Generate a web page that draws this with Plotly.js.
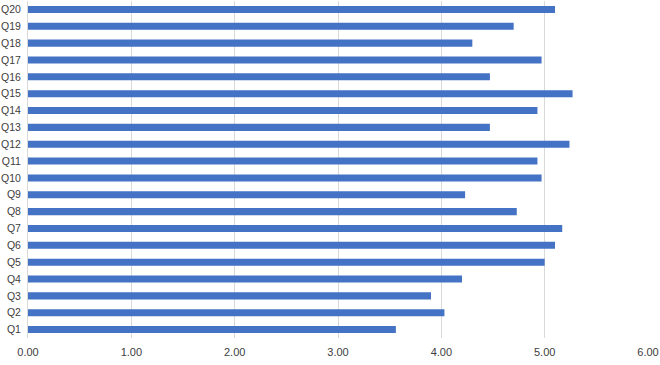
<!DOCTYPE html>
<html>
<head>
<meta charset="utf-8">
<script src="https://cdn.plot.ly/plotly-3.0.1.min.js"></script>
<style>html,body{margin:0;padding:0;background:#fff;}#chart{width:660px;height:365px;}</style>
</head>
<body>
<div id="chart"></div>
<script>
const categories = ["Q1","Q2","Q3","Q4","Q5","Q6","Q7","Q8","Q9","Q10","Q11","Q12","Q13","Q14","Q15","Q16","Q17","Q18","Q19","Q20"];
const values = [3.56, 4.03, 3.90, 4.20, 5.00, 5.10, 5.17, 4.73, 4.23, 4.97, 4.93, 5.24, 4.47, 4.93, 5.27, 4.47, 4.97, 4.30, 4.70, 5.10];
const tickVals = [0, 1, 2, 3, 4, 5, 6];
const tickText = ["0.00", "1.00", "2.00", "3.00", "4.00", "5.00", "6.00"];

Plotly.newPlot('chart', [{
  type: 'bar',
  orientation: 'h',
  y: categories,
  x: values,
  marker: {color: '#4472C4'},
  hoverinfo: 'x+y'
}], {
  width: 660, height: 365,
  margin: {l: 28, r: 12, t: 1, b: 27},
  paper_bgcolor: '#fff', plot_bgcolor: '#fff',
  bargap: 0.58,
  showlegend: false,
  font: {family: 'Liberation Sans, Arial, sans-serif', size: 11, color: '#404040'},
  xaxis: {
    range: [0, 6], tickvals: tickVals, ticktext: tickText,
    showgrid: true, gridcolor: '#d9d9d9', gridwidth: 1,
    zeroline: false, showline: false, ticks: '', ticklen: 0,
    ticklabelstandoff: 6,
    tickfont: {size: 11, color: '#404040'}, automargin: false
  },
  yaxis: {
    type: 'category', showgrid: false, zeroline: false,
    showline: true, linecolor: '#d9d9d9', linewidth: 1,
    ticks: '', ticklen: 0, ticklabelstandoff: 4,
    tickfont: {size: 10.5, color: '#404040'}, automargin: false
  }
}, {staticPlot: true});
</script>
</body>
</html>
